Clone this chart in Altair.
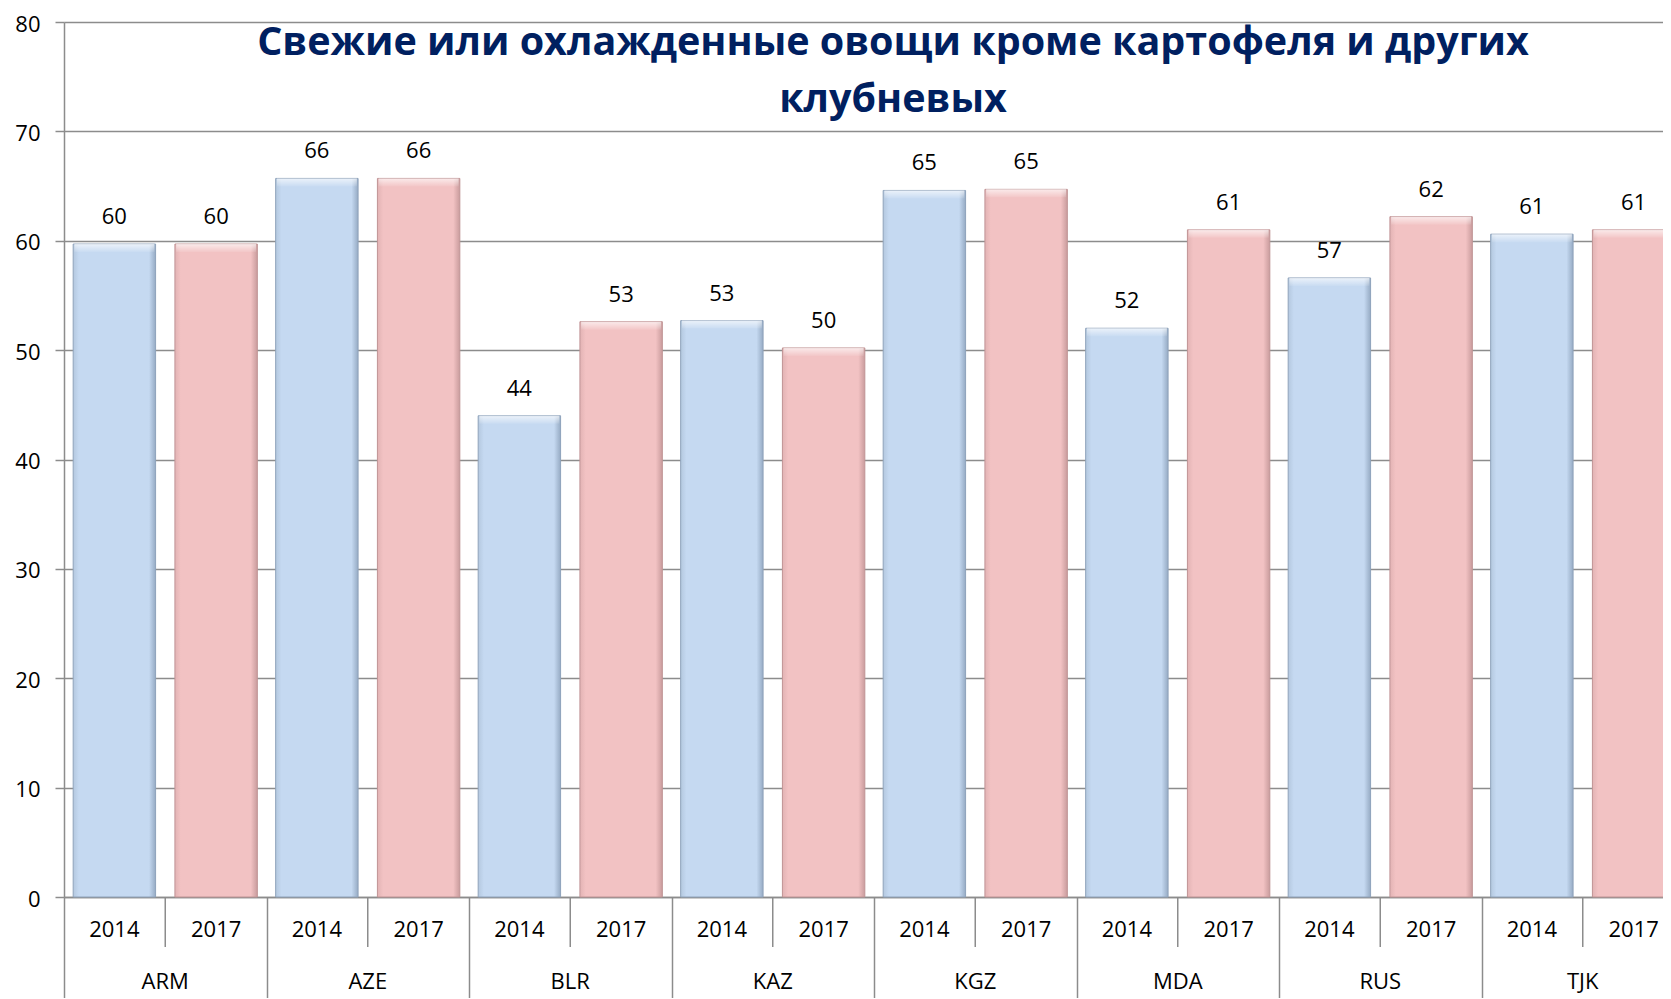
import altair as alt
import pandas as pd

# ---- data ----
countries = ["ARM", "AZE", "BLR", "KAZ", "KGZ", "MDA", "RUS", "TJK"]
years = ["2014", "2017"]
values_2014 = [59.7, 65.7, 44.0, 52.7, 64.6, 52.0, 56.6, 60.6]
values_2017 = [59.7, 65.7, 52.6, 50.2, 64.7, 61.0, 62.2, 61.0]
y_ticks = [0, 10, 20, 30, 40, 50, 60, 70, 80]
title_text = "Свежие или охлажденные овощи кроме картофеля и других\nклубневых"

rows = []
for i, c in enumerate(countries):
    rows.append({"country": c, "year": "2014", "value": values_2014[i]})
    rows.append({"country": c, "year": "2017", "value": values_2017[i]})
df = pd.DataFrame(rows)
title_df = pd.DataFrame({"t": [title_text]})

# ---- layout / style ----
PLOT_W = 1599
PLOT_H = 875
X_RANGE = 1620
FONT = "Open Sans"
GRAY = "#8c8c8c"

x_scale = alt.Scale(domain=countries, range=[0, X_RANGE], paddingInner=0, paddingOuter=0)
xo_scale = alt.Scale(domain=years, paddingInner=0.19, paddingOuter=0.09)
y_scale = alt.Scale(domain=[0, 80], nice=False)

x_axis = alt.Axis(title=None, labels=False, tickBand="extent", tickSize=110,
                  tickColor=GRAY, tickWidth=1.5, domainColor=GRAY, domainWidth=1.5,
                  grid=False)
y_axis = alt.Axis(title=None, values=y_ticks, grid=True, gridColor=GRAY, gridWidth=1.5,
                  domainColor=GRAY, domainWidth=1.5, tickColor=GRAY, tickSize=9,
                  tickWidth=1.5, labelFont=FONT, labelFontSize=22, labelColor="#000000",
                  labelPadding=15, labelOffset=2)

x_enc = alt.X("country:N", scale=x_scale, sort=countries, axis=x_axis)
xo_enc = alt.XOffset("year:N", scale=xo_scale, sort=years)
y_enc = alt.Y("value:Q", scale=y_scale, axis=y_axis)

base = alt.Chart(df)


def bar_layer(year, edge_l, mid, edge_r, stroke):
    grad = alt.Gradient(
        gradient="linear", x1=0, x2=1, y1=0, y2=0,
        stops=[
            alt.GradientStop(offset=0, color=edge_l),
            alt.GradientStop(offset=0.07, color=mid),
            alt.GradientStop(offset=0.92, color=mid),
            alt.GradientStop(offset=1, color=edge_r),
        ],
    )
    return base.transform_filter(alt.datum.year == year).mark_bar(
        color=grad, stroke=stroke, strokeWidth=1
    ).encode(x=x_enc, xOffset=xo_enc, y=y_enc)


bars_2014 = bar_layer("2014", "#b4c8df", "#c5d9f1", "#96abc4", "#8fa3bb")
bars_2017 = bar_layer("2017", "#e2b3b4", "#f2c2c3", "#c99c9d", "#c09495")

highlight = base.mark_tick(
    orient="horizontal", thickness=8, size=80, yOffset=4,
    color=alt.Gradient(gradient="linear", x1=0, x2=0, y1=0, y2=1,
                       stops=[alt.GradientStop(offset=0, color="rgba(255,255,255,0.95)"),
                              alt.GradientStop(offset=1, color="rgba(255,255,255,0.1)")]),
).encode(x=x_enc, xOffset=xo_enc, y=y_enc)

value_labels = base.mark_text(
    font=FONT, fontSize=22, color="#000000", baseline="middle", dy=-27
).encode(x=x_enc, xOffset=xo_enc, y=y_enc, text=alt.Text("value:Q", format=".0f"))

year_labels = base.mark_text(
    font=FONT, fontSize=22, color="#000000", baseline="middle"
).encode(x=x_enc, xOffset=xo_enc, y=alt.value(PLOT_H + 33), text="year:N")

separators = base.transform_filter(alt.datum.year == "2014").mark_rule(
    color=GRAY, strokeWidth=1.5
).encode(x=x_enc, y=alt.value(PLOT_H), y2=alt.value(PLOT_H + 50))

country_labels = base.transform_filter(alt.datum.year == "2014").mark_text(
    font=FONT, fontSize=22, color="#000000", baseline="middle"
).encode(x=x_enc, y=alt.value(PLOT_H + 85), text="country:N")

title = alt.Chart(title_df).mark_text(
    font=FONT, fontWeight="bold", fontSize=39.5, color="#002060", align="center",
    baseline="alphabetic", lineBreak="\n", lineHeight=57
).encode(x=alt.value(829), y=alt.value(33), text="t:N")

chart = alt.layer(
    bars_2014, bars_2017, highlight, value_labels, year_labels, separators,
    country_labels, title
).properties(
    width=PLOT_W, height=PLOT_H,
    autosize=alt.AutoSizeParams(type="none"),
    padding={"left": 56, "top": 14, "right": 0, "bottom": 101},
    background="white",
).configure_view(stroke=None)

chart.save("out.html", embed_options={"renderer": "svg", "actions": False})
